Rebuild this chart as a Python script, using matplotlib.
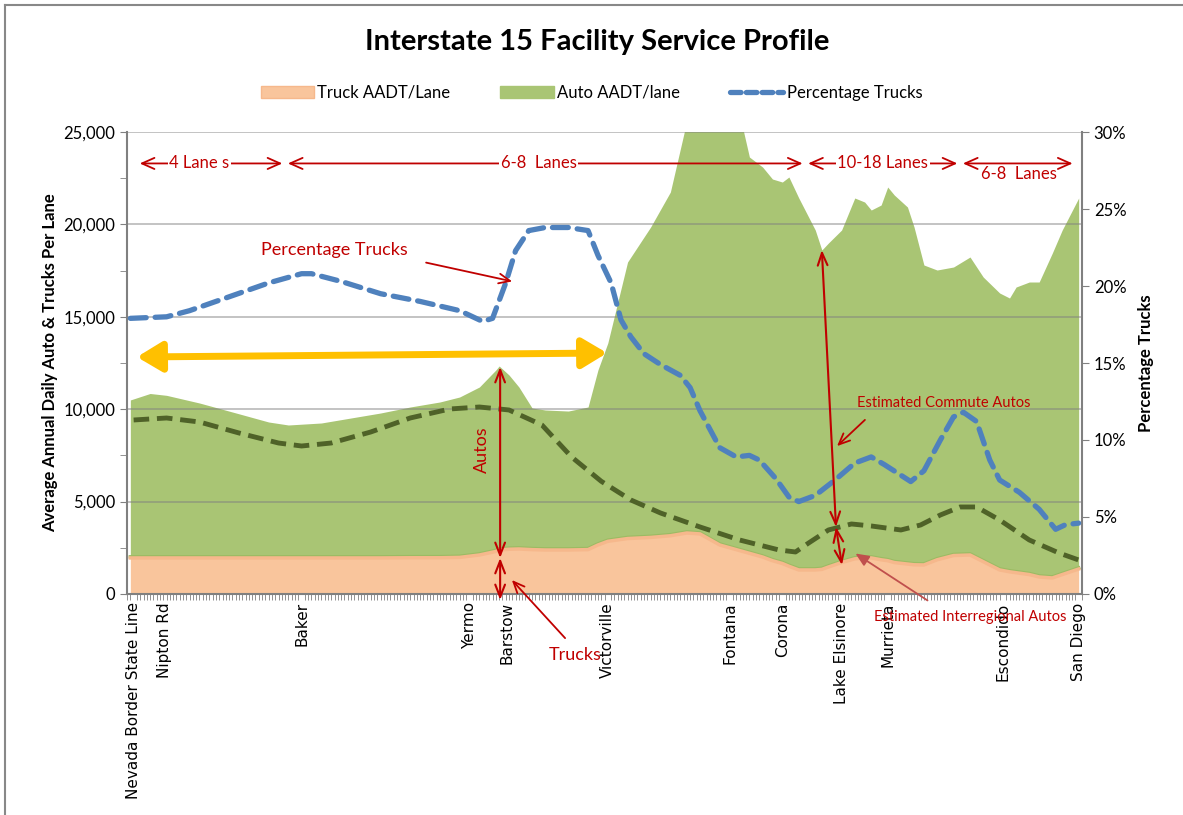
import numpy as np
import matplotlib.pyplot as plt
from matplotlib.patches import Patch
from matplotlib.lines import Line2D
from matplotlib.ticker import MultipleLocator, FuncFormatter

plt.rcParams['font.family'] = ['Lato', 'DejaVu Sans']

# Position along I-15 (approx. miles from the Nevada border)
miles = [1, 7, 12, 22, 34, 43, 49, 59, 68, 77, 86, 95, 101, 107, 112, 113, 116, 119, 123, 127,
         134, 140, 143, 146, 152, 159, 165, 170, 174, 180, 187, 189, 193, 196, 199, 201, 204, 209,
         211, 213, 217, 221, 224, 226, 229, 231, 233, 237, 239, 242, 246, 251, 256, 260, 265, 268,
         270, 274, 277, 281, 284, 289]

# Total AADT per lane (truck + auto)
total_aadt = [10500, 10850, 10750, 10335, 9750, 9307, 9145, 9253, 9524, 9794, 10119, 10390, 10660,
              11201, 12121, 12338, 11850, 11201, 10065, 9957, 9900, 10119, 12121, 13582, 17965,
              19859, 21753, 25600, 26000, 26000, 25200, 23647, 23106, 22457, 22294, 22565, 21429,
              19697, 18615, 18994, 19697, 21429, 21212, 20779, 21050, 22024, 21591, 20942, 19859,
              17803, 17532, 17695, 18236, 17154, 16288, 16017, 16612, 16883, 16883, 18452, 19697,
              21429]

truck_aadt = [1950, 1950, 1950, 1950, 1950, 1950, 1950, 1950, 1950, 1950, 1960, 1960, 1980, 2110,
              2300, 2380, 2420, 2435, 2400, 2380, 2380, 2400, 2650, 2850, 3000, 3060, 3150, 3300,
              3250, 2650, 2300, 2200, 2000, 1800, 1650, 1500, 1300, 1300, 1330, 1460, 1700, 1900,
              1950, 1950, 1850, 1800, 1700, 1620, 1580, 1570, 1850, 2080, 2110, 1750, 1300, 1200,
              1150, 1050, 920, 866, 1050, 1350]

auto_aadt = [t - k for t, k in zip(total_aadt, truck_aadt)]

# Percentage trucks (right axis)
pct_miles = [1, 12, 19, 31, 43, 53, 56, 65, 77, 89, 101, 108, 111, 115, 118, 122, 127, 134, 140,
             143, 147, 150, 153, 157, 162, 168, 171, 174, 180, 185, 189, 192, 197, 201, 204, 209,
             215, 221, 226, 230, 238, 242, 247, 251, 254, 258, 262, 265, 271, 277, 282, 285, 289]
pct_trucks = [17.9, 18.0, 18.4, 19.3, 20.2, 20.8, 20.8, 20.3, 19.5, 19.0, 18.4, 17.7, 17.9, 20.2,
              22.3, 23.6, 23.8, 23.8, 23.6, 22.0, 20.2, 17.8, 16.7, 15.6, 14.9, 14.2, 13.4, 11.9,
              9.5, 8.9, 9.0, 8.7, 7.5, 6.3, 6.0, 6.4, 7.4, 8.5, 8.9, 8.4, 7.3, 8.0, 10.0, 11.5,
              11.8, 11.2, 8.7, 7.4, 6.6, 5.5, 4.2, 4.5, 4.6]

# Estimated commute autos
commute_miles = [2, 12, 22, 34, 46, 53, 62, 74, 86, 98, 107, 116, 126, 135, 144, 153, 162, 174,
                 186, 198, 203, 207, 213, 220, 226, 235, 241, 247, 253, 258, 265, 274, 283, 289]
commute_autos = [9416, 9524, 9307, 8712, 8170, 8008, 8170, 8766, 9524, 10011, 10119, 9957, 9145,
                 7413, 6100, 5087, 4383, 3626, 2922, 2381, 2273, 2760, 3463, 3788, 3680, 3463,
                 3734, 4275, 4708, 4708, 4004, 2922, 2219, 1840]

# Cities on the x axis
city_miles = [2, 11.5, 53, 104, 115.5, 146, 183, 199, 217, 231, 266, 289]
city_names = ['Nevada Border State Line', 'Nipton Rd', 'Baker', 'Yermo', 'Barstow', 'Victorville',
              'Fontana', 'Corona', 'Lake Elsinore', 'Murrieta', 'Escondido', 'San Diego']

red = '#C00000'
orange = '#F9C59C'
green = '#A9C574'
blue = '#4F81BD'

fig = plt.figure(figsize=(11.83, 8.15), dpi=100)
# chart border (top and left edges of the chart frame)
fig.add_artist(Line2D([0.0045, 1], [0.9935, 0.9935], color='#888888', lw=1.5))
fig.add_artist(Line2D([0.0045, 0.0045], [0, 0.9935], color='#888888', lw=1.5))

ax = fig.add_axes([0.1074, 0.2712, 0.8072, 0.5668])

# stacked areas
ax.fill_between(miles, 0, truck_aadt, color=orange, lw=0, zorder=2)
ax.plot(miles, truck_aadt, color='#F6B88C', lw=2.5, zorder=2)
ax.fill_between(miles, truck_aadt, total_aadt, color=green, lw=0, zorder=1)
ax.plot(miles, np.array(truck_aadt) + 60, color='#9CBB63', lw=2.5, zorder=1.5)

for yv in range(5000, 25001, 5000):
    ax.axhline(yv, color='#7F7F7F', lw=1.2, alpha=0.55, zorder=3)

ax.plot(commute_miles, commute_autos, color='#4F6228', lw=3.5, ls=(0, (3.2, 1.6)), zorder=4)

ax.set_xlim(0, 290)
ax.set_ylim(0, 25000)
ax.yaxis.set_major_locator(MultipleLocator(5000))
ax.yaxis.set_minor_locator(MultipleLocator(2500))
ax.yaxis.set_major_formatter(FuncFormatter(lambda v, p: f'{int(v):,}'))
ax.tick_params(axis='y', which='both', direction='out', length=5, color='#808080', labelsize=12)
ax.set_ylabel('Average Annual Daily Auto & Trucks Per Lane', fontsize=12, fontweight='bold')

ax.set_xticks(city_miles)
ax.set_xticklabels(city_names, rotation=90, fontsize=11, family='DejaVu Sans', va='top')
ax.xaxis.set_minor_locator(MultipleLocator(1))
ax.tick_params(axis='x', which='major', length=0, pad=6)
ax.tick_params(axis='x', which='minor', length=4, color='#808080')
for s in ['left', 'bottom']:
    ax.spines[s].set_color('#808080')
    ax.spines[s].set_linewidth(1.5)
ax.spines['top'].set_visible(False)
ax.spines['right'].set_visible(False)

ax2 = ax.twinx()
ax2.plot(pct_miles, pct_trucks, color=blue, lw=3.8, ls=(0, (3, 1.7)), dash_capstyle='round', zorder=5)
ax2.set_ylim(0, 30)
ax2.spines['right'].set_color('#808080')
ax2.spines['right'].set_linewidth(1.5)
for s in ['left', 'top', 'bottom']:
    ax2.spines[s].set_visible(False)

# annotations layer (same scale as the primary axis, drawn on top)
an = ax2.twinx()
an.set_ylim(0, 25000)
an.axis('off')

ax2.yaxis.tick_right()
ax2.yaxis.set_label_position('right')
ax2.yaxis.set_major_locator(MultipleLocator(5))
ax2.yaxis.set_major_formatter(FuncFormatter(lambda v, p: f'{int(v)}%'))
ax2.tick_params(axis='y', direction='out', length=5, color='#808080', labelsize=12)
ax2.set_ylabel('Percentage Trucks', fontsize=12, fontweight='bold', labelpad=8)

lane_y = 23300
lane_kw = dict(arrowstyle='<->,head_length=0.9,head_width=0.4', color=red, lw=1.3)
for x0, x1 in [(3, 48), (48, 206), (206, 253), (253, 288)]:
    an.annotate('', xy=(x1, lane_y), xytext=(x0, lane_y), arrowprops=lane_kw)
box = dict(facecolor='white', edgecolor='none', pad=1)
an.text(22, lane_y, '4 Lane s', color=red, fontsize=12, ha='center', va='center', bbox=box)
an.text(125, lane_y, '6-8  Lanes', color=red, fontsize=12, ha='center', va='center', bbox=box)
an.text(229.5, lane_y, '10-18 Lanes', color=red, fontsize=12, ha='center', va='center', bbox=box)
an.text(271, 22750, '6-8  Lanes', color=red, fontsize=12, ha='center', va='center')

an.text(63, 18613, 'Percentage Trucks', color=red, fontsize=13, ha='center', va='center')
an.annotate('', xy=(117.8, 16883), xytext=(90, 17965),
            arrowprops=dict(arrowstyle='->,head_length=0.8,head_width=0.35', color=red, lw=1.3))

an.annotate('', xy=(145.8, 13041), xytext=(3, 12825),
            arrowprops=dict(arrowstyle='<|-|>,head_length=0.75,head_width=0.45', color='#FFC000',
                            lw=5, mutation_scale=20, shrinkA=0, shrinkB=0))

va_kw = dict(arrowstyle='<->,head_length=0.9,head_width=0.35', color=red, lw=1.5,
             shrinkA=0, shrinkB=0)
an.annotate('', xy=(113.3, 12283), xytext=(113.3, 1948), arrowprops=va_kw, annotation_clip=False)
an.annotate('', xy=(113.3, 1948), xytext=(113.3, -325), arrowprops=va_kw, annotation_clip=False)
an.text(107.8, 7792, 'Autos', color=red, fontsize=13, rotation=90, ha='center', va='center')

an.text(136, -3300, 'Trucks', color=red, fontsize=13, ha='center', va='center')
an.annotate('', xy=(116.3, 866), xytext=(133.6, -2500),
            arrowprops=dict(arrowstyle='->,head_length=0.8,head_width=0.35', color=red, lw=1.3),
            annotation_clip=False)

an.annotate('', xy=(211, 18613), xytext=(215.3, 3625), arrowprops=va_kw)
an.annotate('', xy=(215.3, 3625), xytext=(217.1, 1569), arrowprops=va_kw)

an.text(248, 10335, 'Estimated Commute Autos', color=red, fontsize=10.5, ha='center', va='center')
an.annotate('', xy=(215, 7900), xytext=(224.7, 9524),
            arrowprops=dict(arrowstyle='->,head_length=0.8,head_width=0.35', color=red, lw=1.3))

an.text(256, -1245, 'Estimated Interregional Autos', color=red, fontsize=10.5, ha='center',
        va='center')
an.annotate('', xy=(220.5, 2273), xytext=(243.8, -433),
            arrowprops=dict(arrowstyle='-|>,head_length=0.8,head_width=0.35', color='#C0504D', lw=1.3),
            annotation_clip=False)

fig.text(0.505, 0.948, 'Interstate 15 Facility Service Profile', fontsize=21, fontweight='bold',
         ha='center', va='center')

handles = [Patch(facecolor=orange, edgecolor='#F6B88C'),
           Patch(facecolor=green, edgecolor=green),
           Line2D([0], [0], color=blue, lw=3.8, ls=(0, (2, 1)), dash_capstyle='round')]
fig.legend(handles, ['Truck AADT/Lane', 'Auto AADT/lane', 'Percentage Trucks'],
           loc='center', bbox_to_anchor=(0.5, 0.886), ncol=3, frameon=False, fontsize=12,
           handlelength=3.2, handletextpad=0.2, columnspacing=3)

fig.savefig('out.png', dpi=100)
